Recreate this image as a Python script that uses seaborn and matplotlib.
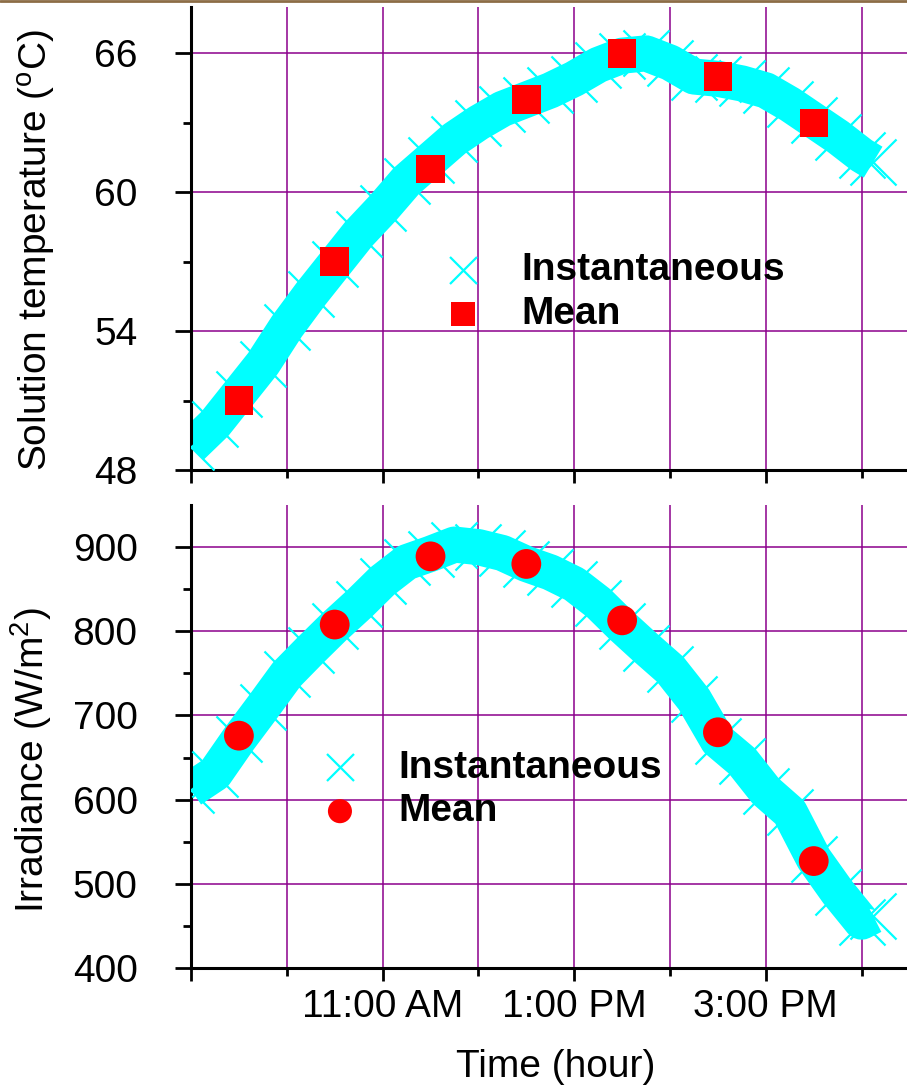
import numpy as np
import pandas as pd
import matplotlib.pyplot as plt
import seaborn as sns
from matplotlib.lines import Line2D

# time in decimal hours (9.0 = 9:00 AM)
inst_hours = [9.0, 9.25, 9.5, 9.75, 10.0, 10.25, 10.5, 10.75, 11.0, 11.25,
              11.5, 11.75, 12.0, 12.25, 12.5, 12.75, 13.0, 13.25, 13.5, 13.75,
              14.0, 14.25, 14.5, 14.75, 15.0, 15.25, 15.5, 15.75, 16.0, 16.12]
inst_temp = [49.0, 50.0, 51.3, 52.6, 54.2, 55.6, 56.9, 58.2, 59.3, 60.5,
             61.4, 62.3, 63.0, 63.6, 64.0, 64.4, 64.9, 65.5, 65.9, 66.0,
             65.6, 65.0, 64.9, 64.7, 64.4, 63.8, 63.1, 62.4, 61.6, 61.3]
inst_irr = [612, 631, 672, 710, 749, 778, 806, 832, 860, 882,
            892, 903, 900, 893, 880, 870, 856, 834, 806, 780,
            755, 719, 670, 646, 610, 585, 530, 490, 455, 462]

mean_hours = [9.5, 10.5, 11.5, 12.5, 13.5, 14.5, 15.5]
mean_temp = [51, 57, 61, 64, 66, 65, 63]
mean_irr = [676, 808, 889, 880, 813, 680, 527]

xtick_pos = [9, 11, 13, 15]
xtick_labels = ['', '11:00 AM', '1:00 PM', '3:00 PM']

CYAN = '#00FFFF'
RED = '#FF0000'
PURPLE = '#8B008B'

sns.set_style('ticks')
plt.rcParams['font.family'] = ['Liberation Sans', 'DejaVu Sans']
plt.rcParams['mathtext.fontset'] = 'custom'
plt.rcParams['mathtext.rm'] = 'Liberation Sans'
plt.rcParams['mathtext.it'] = 'Liberation Sans:italic'
for k in ['text.color', 'axes.labelcolor', 'xtick.color', 'ytick.color', 'axes.edgecolor']:
    plt.rcParams[k] = 'black'

inst = pd.DataFrame({'hour': inst_hours, 'temp': inst_temp, 'irr': inst_irr})
means = pd.DataFrame({'hour': mean_hours, 'temp': mean_temp, 'irr': mean_irr})

fig = plt.figure(figsize=(9.07, 10.87), dpi=100)
ax1 = fig.add_axes([0.2106, 0.5676, 0.7922, 0.4259])
ax2 = fig.add_axes([0.2106, 0.1095, 0.7922, 0.4259])


def draw_panel(ax, col, mean_marker, mean_size, leg_anchor, leg_sizes):
    # thick band + x markers for the instantaneous readings
    sns.lineplot(data=inst, x='hour', y=col, ax=ax, color=CYAN, linewidth=26,
                 legend=False, zorder=2, label='_nolegend_', solid_capstyle='butt')
    sns.scatterplot(data=inst, x='hour', y=col, ax=ax, marker='x', s=1100,
                    color=CYAN, linewidth=1.6, label='Instantaneous', zorder=3)
    sns.scatterplot(data=means, x='hour', y=col, ax=ax, marker=mean_marker,
                    s=mean_size, color=RED, edgecolor='none', label='Mean', zorder=4)

    ax.set_xlim(9, 16.5)
    ax.set_xticks(xtick_pos)
    ax.set_xticks([10, 12, 14, 16], minor=True)
    ax.set_axisbelow(True)
    ax.grid(True, which='both', axis='x', color=PURPLE, lw=1.1)
    ax.grid(True, which='major', axis='y', color=PURPLE, lw=1.1)
    sns.despine(ax=ax)
    for s in ['left', 'bottom']:
        ax.spines[s].set_linewidth(2.2)
        ax.spines[s].set_color('black')
    ax.tick_params(axis='y', which='major', length=11.5, width=2, pad=27, labelsize=28)
    ax.tick_params(axis='y', which='minor', length=5.8, width=2)
    ax.tick_params(axis='x', which='major', length=9.4, width=2, pad=6, labelsize=28)
    ax.tick_params(axis='x', which='minor', length=5.8, width=2)

    leg = ax.legend(loc='center left', bbox_to_anchor=leg_anchor, frameon=False,
                    borderaxespad=0, borderpad=0, handlelength=1.0,
                    handletextpad=1.0, labelspacing=0.2,
                    prop={'weight': 'bold', 'size': 28})
    for h, sz in zip(leg.legend_handles, leg_sizes):
        h.set_sizes([sz])


draw_panel(ax1, 'temp', 's', 420, (0.3514, 0.3844), [378, 300])
ax1.set_ylim(48, 68)
ax1.set_yticks([48, 54, 60, 66])
ax1.set_yticks([51, 57, 63], minor=True)
ax1.tick_params(labelbottom=False)
ax1.set_xlabel('')
ax1.set_ylabel('Solution temperature ($^{\\rm o}$C)', fontsize=28)
ax1.yaxis.set_label_coords(-0.185, 0.475)

draw_panel(ax2, 'irr', 'o', 460, (0.1802, 0.3855), [378, 300])
ax2.set_ylim(400, 950)
ax2.set_yticks([400, 500, 600, 700, 800, 900])
ax2.set_yticks([450, 550, 650, 750, 850], minor=True)
ax2.set_xticklabels(xtick_labels)
ax2.set_xlabel('Time (hour)', fontsize=28)
ax2.xaxis.set_label_coords(0.508, -0.176)
ax2.set_ylabel('Irradiance (W/m$^{2}$)', fontsize=28)
ax2.yaxis.set_label_coords(-0.19, 0.449)

fig.add_artist(Line2D([0, 1], [0.9995, 0.9995], transform=fig.transFigure,
                      color='#8C6D46', lw=2))

fig.savefig('out.png', dpi=100)
